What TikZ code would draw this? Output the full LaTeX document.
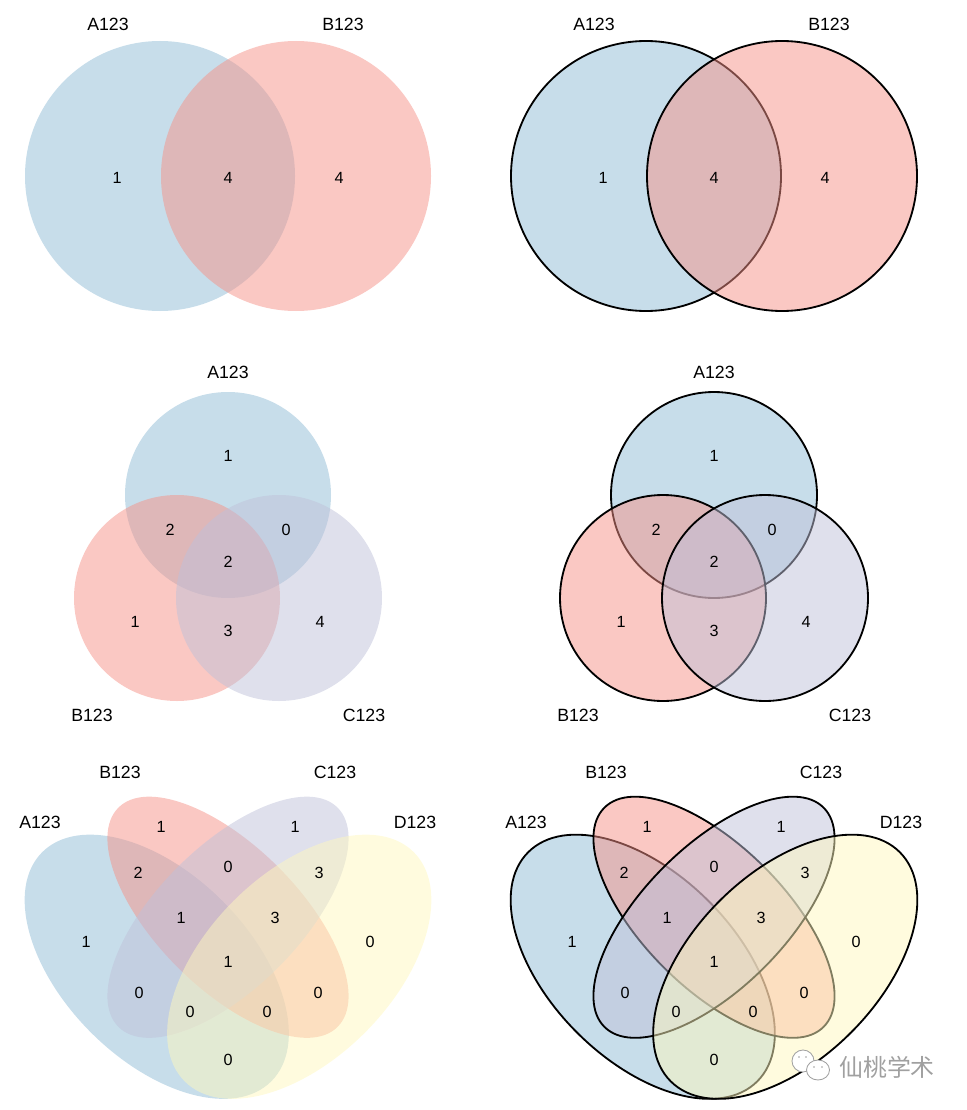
\documentclass[tikz,border=0pt]{standalone}
\usepackage{fontspec}
\setmainfont{Liberation Sans}
\newfontfamily\cjkfont{Noto Sans CJK SC}

\definecolor{vennA}{RGB}{143,187,213}
\definecolor{vennB}{RGB}{245,145,135}
\definecolor{vennC}{RGB}{191,193,217}
\definecolor{vennD}{RGB}{255,248,190}
\definecolor{markgray}{RGB}{160,160,160}

\tikzset{
  setfill/.style={fill=#1, fill opacity=0.5, line width=1.3pt},
  setname/.style={font=\fontsize{12.6}{15}\selectfont},
  regionnum/.style={font=\fontsize{11.5}{13}\selectfont},
  bubble/.style={markgray, line width=0.6pt, fill=white},
}

\begin{document}
\begin{tikzpicture}[x=0.025cm, y=0.025cm]
  \useasboundingbox (0,0) rectangle (966,-1110);

  % coluna esquerda: sem contorno / coluna direita: com contorno preto
  \foreach \dx/\lc/\p in {0/none/l, 486/black/r} {
  \begin{scope}[shift={(\dx,0)}]

    % ==========================================
    % 1. DOIS CONJUNTOS
    % ==========================================
    \draw[setfill=vennA, draw=\lc] (160,-176) circle[radius=135];
    \draw[setfill=vennB, draw=\lc] (296,-176) circle[radius=135];
    \node[setname] (twoA\p) at (108,-24) {A123};
    \node[setname] (twoB\p) at (343,-24) {B123};
    \foreach \x/\y/\n [count=\k] in {117/178/1, 228/178/4, 339/178/4}
      \node[regionnum] (two\k\p) at (\x,-\y) {\n};

    % ==========================================
    % 2. TRES CONJUNTOS
    % ==========================================
    \draw[setfill=vennA, draw=\lc] (228,-495) circle[radius=103];
    \draw[setfill=vennB, draw=\lc] (177,-598) circle[radius=103];
    \draw[setfill=vennC, draw=\lc] (279,-598) circle[radius=103];
    \node[setname] (threeA\p) at (228,-372) {A123};
    \node[setname] (threeB\p) at (92,-715) {B123};
    \node[setname] (threeC\p) at (364,-715) {C123};
    \foreach \x/\y/\n [count=\k] in {228/456/1, 170/530/2, 286/530/0, 228/562/2,
                                     135/622/1, 228/631/3, 320/622/4}
      \node[regionnum] (three\k\p) at (\x,-\y) {\n};

    % ==========================================
    % 3. QUATRO CONJUNTOS (elipses)
    % ==========================================
    \draw[setfill=vennA, draw=\lc, shift={(156.75,-966.75)}, rotate=-45]
      (0,0) ellipse[x radius=162, y radius=93];
    \draw[setfill=vennB, draw=\lc, shift={(228,-917.25)}, rotate=-45]
      (0,0) ellipse[x radius=155, y radius=71];
    \draw[setfill=vennC, draw=\lc, shift={(228,-917.25)}, rotate=45]
      (0,0) ellipse[x radius=155, y radius=71];
    \draw[setfill=vennD, draw=\lc, shift={(299.25,-966.75)}, rotate=45]
      (0,0) ellipse[x radius=162, y radius=93];
    \node[setname] (fourA\p) at (40,-822) {A123};
    \node[setname] (fourB\p) at (120,-772) {B123};
    \node[setname] (fourC\p) at (335,-772) {C123};
    \node[setname] (fourD\p) at (415,-822) {D123};
    \foreach \x/\y/\n [count=\k] in {161/827/1, 295/827/1, 138/873/2, 228/867/0,
                                     319/873/3, 181/918/1, 275/918/3, 86/942/1,
                                     370/942/0, 228/962/1, 139/993/0, 318/993/0,
                                     190/1012/0, 267/1012/0, 228/1060/0}
      \node[regionnum] (four\k\p) at (\x,-\y) {\n};
  \end{scope}
  }

  % marca d'agua
  \draw[bubble] (803,-1061) ellipse[x radius=11, y radius=11];
  \fill[markgray] (799,-1057) circle[radius=0.9] (806,-1057) circle[radius=0.9];
  \draw[bubble] (818,-1070) ellipse[x radius=11.5, y radius=10];
  \fill[markgray] (814,-1067) circle[radius=0.9] (822,-1067) circle[radius=0.9];
  \node[text=markgray, font=\cjkfont\fontsize{17}{20}\selectfont] (mark) at (887,-1067) {仙桃学术};
\end{tikzpicture}
\end{document}
